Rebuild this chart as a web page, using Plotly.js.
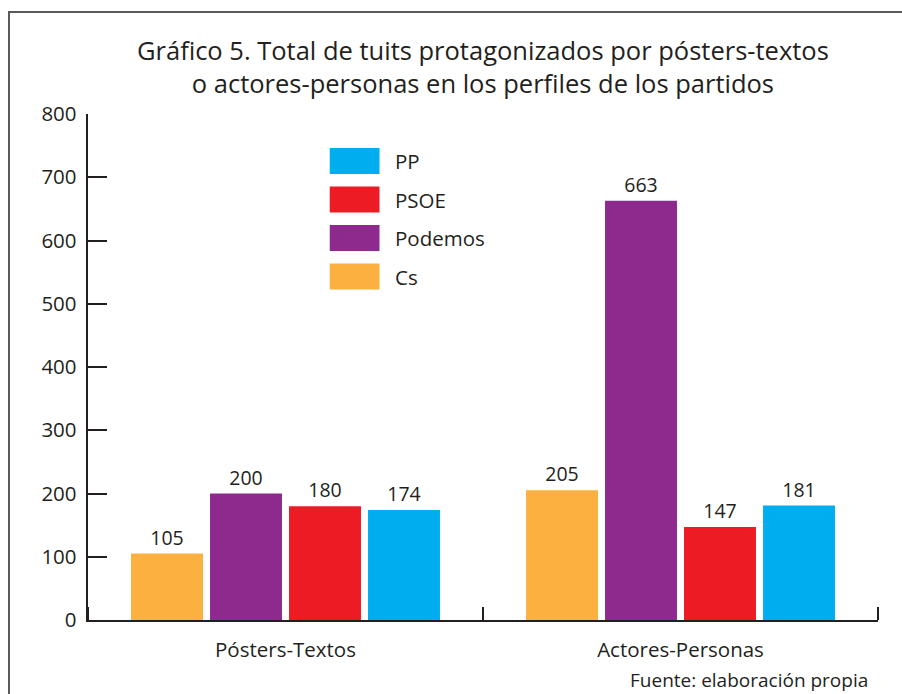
<!DOCTYPE html>
<html>
<head>
<meta charset="utf-8">
<script src="https://cdn.plot.ly/plotly-3.0.1.min.js"></script>
<style>
  body { margin: 0; background: #fff; }
  #plot { width: 902px; height: 694px; }
</style>
</head>
<body>
<div id="plot"></div>
<script>
// categories and series
var categories = ["Pósters-Textos", "Actores-Personas"];
var cs = [105, 205];
var podemos = [200, 663];
var psoe = [180, 147];
var pp = [174, 181];

var seriesNames = ["Cs", "Podemos", "PSOE", "PP"];
var seriesValues = [cs, podemos, psoe, pp];
var seriesColors = ["#FBB040", "#8E2A8E", "#ED1C24", "#00AEEF"];

var ink = "#231f20";
var font = "Open Sans, sans-serif";

var data = [];
for (var i = 0; i < seriesNames.length; i++) {
  data.push({
    x: categories,
    y: seriesValues[i],
    name: seriesNames[i],
    type: "bar",
    marker: { color: seriesColors[i] },
    text: seriesValues[i].map(String),
    textposition: "outside",
    textfont: { family: font, size: 19.5, color: ink }
  });
}

// legend drawn by hand so the swatches can be large (PP on top)
var shapes = [];
var annotations = [];
var legendOrder = [3, 2, 1, 0];
for (var k = 0; k < legendOrder.length; k++) {
  var s = legendOrder[k];
  var rowTop = 1.0 - (148 - 114) / 506 - k * 38.5 / 506;
  shapes.push({
    type: "rect", xref: "paper", yref: "paper",
    x0: 0.306, x1: 0.369, y0: rowTop - 26 / 506, y1: rowTop,
    fillcolor: seriesColors[s], line: { width: 0 }
  });
  annotations.push({
    xref: "paper", yref: "paper", x: 0.386, y: rowTop - 13 / 506,
    xanchor: "left", yanchor: "middle", showarrow: false,
    text: seriesNames[s], font: { family: font, size: 20.5, color: ink }
  });
}

// boundary ticks on the category axis (start, between groups, end)
var nCat = categories.length;
for (var b = 0; b <= nCat; b++) {
  shapes.push({
    type: "line", xref: "paper", yref: "paper",
    x0: b / nCat, x1: b / nCat, y0: 0, y1: 13 / 506,
    line: { color: ink, width: 2 }
  });
}

// outer frame
shapes.push({
  type: "rect", xref: "paper", yref: "paper",
  x0: -0.1, x1: 1.2, y0: -0.3, y1: 1.2016,
  line: { color: "#58595b", width: 2 }, fillcolor: "rgba(0,0,0,0)", layer: "below"
});

// title
annotations.push({
  xref: "paper", yref: "paper", x: 0.5, y: 1 + (114 - 66) / 506,
  xanchor: "center", yanchor: "middle", showarrow: false,
  text: "Gráfico 5. Total de tuits protagonizados por pósters-textos<br>o actores-personas en los perfiles de los partidos",
  font: { family: font, size: 25.5, color: ink }
});

annotations.push({
  xref: "paper", yref: "paper", x: 0.99, y: -0.119,
  xanchor: "right", yanchor: "middle", showarrow: false,
  text: "Fuente: elaboración propia",
  font: { family: font, size: 19, color: ink }
});

var layout = {
  width: 902,
  height: 694,
  margin: { l: 88, r: 24, t: 114, b: 74 },
  paper_bgcolor: "#fff",
  plot_bgcolor: "#fff",
  showlegend: false,
  barmode: "group",
  bargap: 0.2,
  bargroupgap: 0.089,
  xaxis: {
    type: "category",
    showline: true, linecolor: ink, linewidth: 2,
    ticks: "",
    ticklabelstandoff: 10,
    tickfont: { family: font, size: 20.5, color: ink },
    showgrid: false, zeroline: false
  },
  yaxis: {
    range: [0, 800],
    dtick: 100,
    showline: true, linecolor: ink, linewidth: 2,
    ticks: "inside", ticklen: 19, tickwidth: 2, tickcolor: ink,
    tickfont: { family: font, size: 20.5, color: ink },
    ticksuffix: " ",
    showgrid: false, zeroline: false
  },
  shapes: shapes,
  annotations: annotations
};

Plotly.newPlot("plot", data, layout, { staticPlot: true });
</script>
</body>
</html>
